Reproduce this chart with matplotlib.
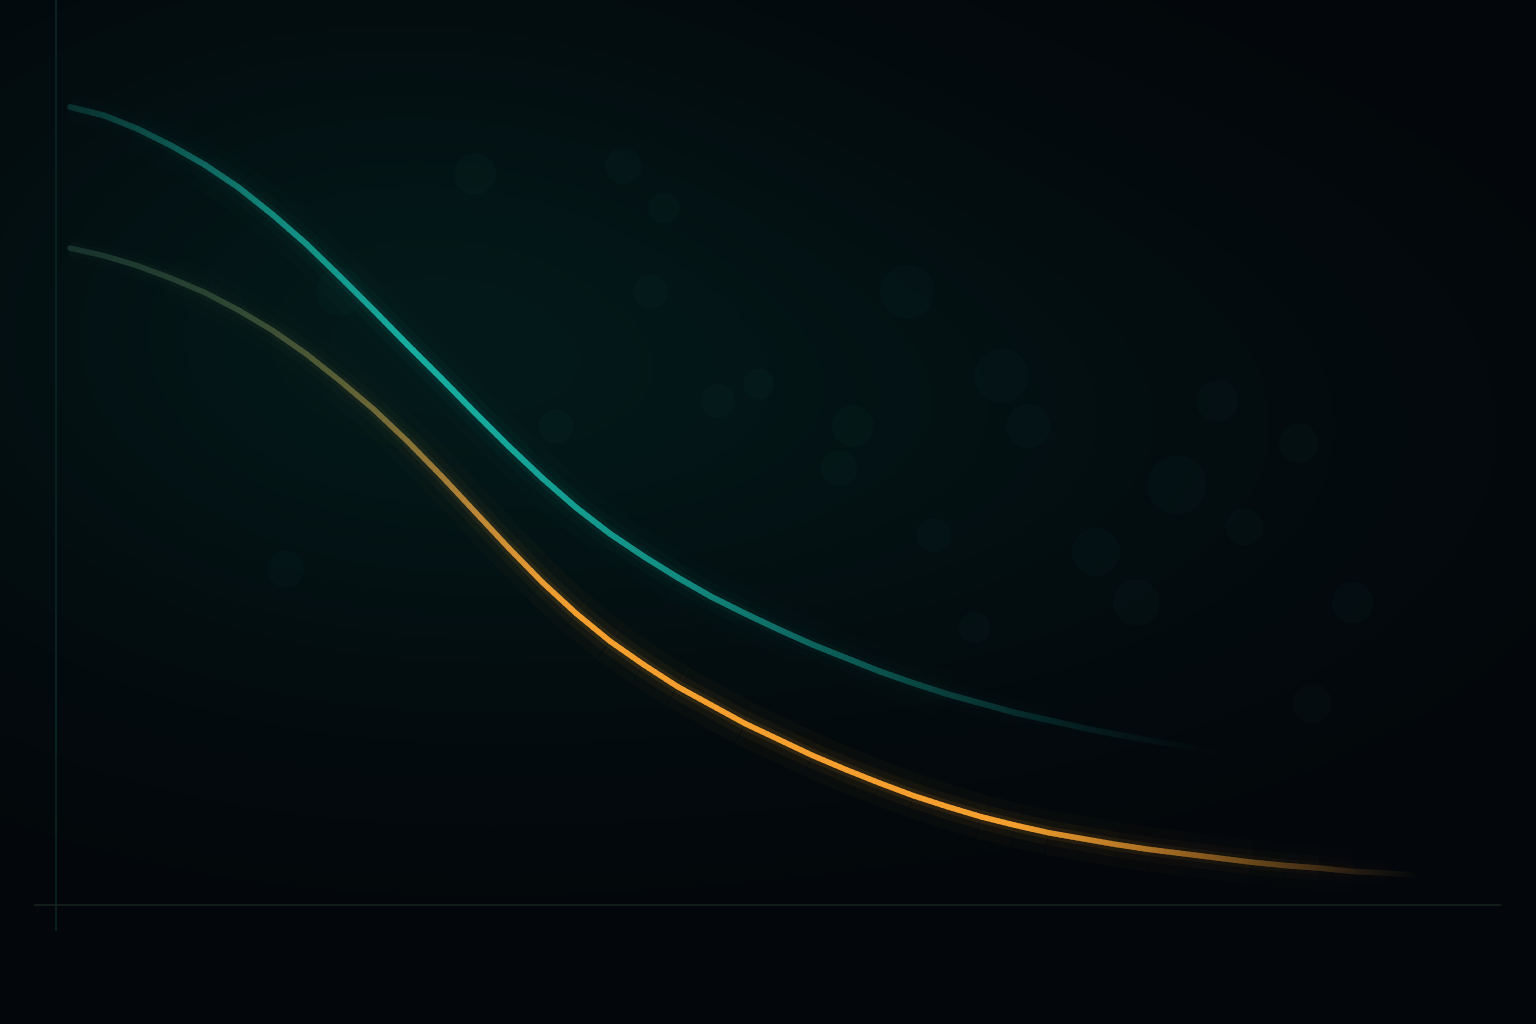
import matplotlib
matplotlib.use("Agg")
import matplotlib.pyplot as plt
import numpy as np
from matplotlib.collections import LineCollection
from matplotlib.colors import to_rgb
from matplotlib.lines import Line2D

# series (x in arbitrary units, step 0.25)
x_teal = np.arange(35) * 0.25
teal = [95.0, 94.0, 92.4, 90.4, 88.1, 85.4, 82.2, 78.7, 74.8, 70.8,
        66.7, 62.7, 58.6, 54.6, 50.8, 47.3, 44.2, 41.5, 39.0, 36.7,
        34.7, 32.8, 31.0, 29.4, 27.8, 26.4, 25.1, 24.0, 22.9, 22.0,
        21.1, 20.3, 19.6, 18.9, 18.2]

x_orange = np.arange(41) * 0.25
orange = [78.2, 77.3, 76.1, 74.6, 72.9, 70.8, 68.4, 65.6, 62.4, 59.0,
          55.2, 51.1, 46.8, 42.5, 38.4, 34.7, 31.4, 28.6, 26.0, 23.8,
          21.6, 19.7, 17.8, 16.1, 14.5, 13.0, 11.7, 10.5, 9.5, 8.6,
          7.9, 7.2, 6.6, 6.1, 5.6, 5.1, 4.7, 4.4, 4.0, 3.8, 3.5]

# faint bokeh dots in the background
bokeh_x = [3.0, 4.1, 4.4, 2.0, 4.3, 6.2, 6.9, 7.1, 8.2, 8.5, 9.1, 7.6, 5.8, 4.8,
           5.7, 6.4, 7.9, 8.7, 6.7, 3.6, 5.1, 9.5, 1.6, 9.2]
bokeh_y = [87, 88, 83, 73, 73, 73, 63, 57, 50, 60, 55, 42, 57, 60,
           52, 44, 36, 45, 33, 57, 62, 36, 40, 24]
bokeh_s = [900, 700, 500, 1200, 600, 1500, 1500, 1000, 1800, 900, 800, 1200, 900, 600,
           700, 600, 1100, 700, 500, 600, 500, 900, 700, 800]

BG = "#03070b"
WIDTH, HEIGHT = 1536, 1024

fig = plt.figure(figsize=(15.36, 10.24), dpi=100, facecolor=BG)

base = np.array(to_rgb(BG))
tint = np.array(to_rgb("#031b1b"))


def haze(gx, gy):
    # soft teal haze, gx/gy in pixels from top-left
    g1 = np.exp(-(((gx - 380) / 480) ** 2 + ((gy - 330) / 330) ** 2))
    g2 = np.exp(-(((gx - 950) / 480) ** 2 + ((gy - 430) / 280) ** 2))
    h = np.clip(0.8 * g1 + 0.35 * g2, 0, 1)
    return base + (tint - base) * h[..., None]


bg = fig.add_axes([0, 0, 1, 1])
bg.set_axis_off()
yy, xx = np.mgrid[0:256, 0:384]
bg.imshow(np.clip(haze(xx / 384 * WIDTH, yy / 256 * HEIGHT), 0, 1),
          extent=[0, 1, 0, 1], aspect="auto", origin="upper")
bg.set_xlim(0, 1)
bg.set_ylim(0, 1)

ax = fig.add_axes([56 / WIDTH, 119 / HEIGHT, 1440 / WIDTH, 840 / HEIGHT])
ax.patch.set_alpha(0)
ax.set_xlim(-0.104, 10.563)
ax.set_ylim(0, 100)
ax.set_axis_off()

ax.scatter(bokeh_x, bokeh_y, s=bokeh_s, color="#1d6a62", alpha=0.05, linewidths=0)


def split(x, y, n):
    # extra vertices along each straight segment, only for colour/fade steps
    px, py = [x[0]], [y[0]]
    for i in range(len(x) - 1):
        for k in range(1, n + 1):
            t = k / n
            px.append(x[i] + (x[i + 1] - x[i]) * t)
            py.append(y[i] + (y[i + 1] - y[i]) * t)
    px, py = np.array(px), np.array(py)
    pts = np.column_stack([px, py]).reshape(-1, 1, 2)
    segs = np.concatenate([pts[:-1], pts[1:]], axis=1)
    return segs, (px[:-1] + px[1:]) / 2, (py[:-1] + py[1:]) / 2


def glow_line(x, y, colors_at, alpha_at, lw, glow_gain=1.0):
    x = np.asarray(x, float)
    y = np.asarray(y, float)
    cx, cols = colors_at
    rgb = np.array([to_rgb(c) for c in cols])

    def colour(m):
        return np.column_stack([np.interp(m, cx, rgb[:, j]) for j in range(3)])

    segs, mid, _ = split(x, y, 1)
    a, r = np.interp(mid, *alpha_at), colour(mid)
    for width, amul in [(lw * 8, 0.02), (lw * 4.5, 0.04), (lw * 2.3, 0.08)]:
        c = np.column_stack([r, np.clip(a * amul * glow_gain, 0, 1)])
        ax.add_collection(LineCollection(segs, colors=c, linewidths=width,
                                         capstyle="butt", joinstyle="round"))
    # core: opaque colour mixed with the local background, so ends fade out cleanly
    segs, mid, midy = split(x, y, 6)
    a, r = np.interp(mid, *alpha_at), colour(mid)
    disp = ax.transData.transform(np.column_stack([mid, midy]))
    local = haze(disp[:, 0], HEIGHT - disp[:, 1])
    core = local + (r - local) * a[:, None]
    ax.add_collection(LineCollection(segs, colors=np.clip(core, 0, 1), linewidths=lw,
                                     capstyle="round", joinstyle="round"))


glow_line(x_teal, teal,
          ([0, 1.5, 3, 6, 8.5], ["#12665e", "#16a395", "#18b0a2", "#139488", "#0e6560"]),
          ([0, 0.5, 1.5, 2.5, 4.5, 5.5, 6.5, 7.5, 8.5],
           [0.38, 0.52, 0.8, 1.0, 0.85, 0.62, 0.4, 0.18, 0.0]),
          4.3)

glow_line(x_orange, orange,
          ([0, 1.2, 2.2, 3.0, 3.8, 7, 10],
           ["#2f5a4a", "#4d6a48", "#8a8040", "#d0923a", "#f5a02e", "#f5a02e", "#c47c2a"]),
          ([0, 1, 2, 3, 3.5, 7, 8, 9, 9.6, 10],
           [0.45, 0.55, 0.7, 0.9, 1.0, 1.0, 0.75, 0.4, 0.15, 0.0]),
          4.0, glow_gain=1.3)

# faint axis lines
fig.add_artist(Line2D([56 / WIDTH, 56 / WIDTH], [1, 1 - 930 / HEIGHT],
                      color="#0b2624", lw=1.2, transform=fig.transFigure))
fig.add_artist(Line2D([35 / WIDTH, 1500 / WIDTH], [119 / HEIGHT, 119 / HEIGHT],
                      color="#16221e", lw=1.2, transform=fig.transFigure))

fig.savefig("out.png", dpi=100, facecolor=BG)
